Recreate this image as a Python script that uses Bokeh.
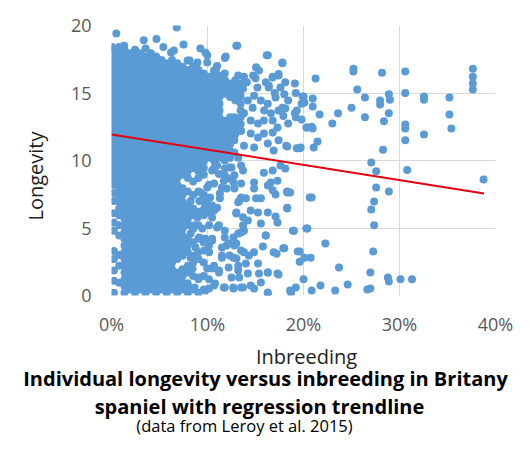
import math
from bokeh.plotting import figure
from bokeh.layouts import column
from bokeh.models import Label, FixedTicker, PrintfTickFormatter, Range1d, Title
from bokeh.embed import file_html
from bokeh.resources import INLINE

# ---------------- data (inbreeding in %, longevity in years) ----------------
x_ticks = [0, 10, 20, 30, 40]
y_ticks = [0, 5, 10, 15, 20]

# dense core of the cloud, read column by column
core_col_x = [0.25, 0.8, 1.35, 1.9, 2.45, 3.0, 3.55, 4.1, 4.65, 5.2, 5.75, 6.3, 6.85,
              7.4, 7.95, 8.5, 9.05, 9.6, 10.15, 10.7, 11.25, 11.8, 12.35, 12.9, 13.45]
core_col_y = [
    [0.2, 1.1, 1.85, 2.7, 3.3, 4.8, 5.4, 6.1, 7.0, 7.6, 8.2, 8.7, 9.2, 9.7, 10.2, 10.7, 11.2, 11.7, 12.2, 12.7, 13.2, 13.7, 14.2, 14.7, 15.2, 15.7, 16.2, 16.7, 17.2, 17.7, 18.2],
    [0.95, 2.2, 3.0, 4.45, 5.2, 5.95, 6.45, 6.95, 7.45, 7.95, 8.45, 8.95, 9.45, 9.95, 10.45, 10.95, 11.45, 11.95, 12.45, 12.95, 13.45, 13.95, 14.45, 14.95, 15.45, 15.95, 16.45, 16.95, 17.45, 17.95, 18.4],
    [0.2, 0.7, 1.2, 1.7, 2.2, 2.7, 3.2, 3.7, 4.2, 4.7, 5.2, 5.7, 6.2, 6.7, 7.2, 7.7, 8.2, 8.7, 9.2, 9.7, 10.2, 10.7, 11.2, 11.7, 12.2, 12.7, 13.2, 13.7, 14.2, 14.7, 15.2, 15.7, 16.2, 16.7, 17.2, 17.7, 18.2],
    [0.45, 0.95, 1.45, 1.95, 2.45, 2.95, 3.45, 3.95, 4.45, 4.95, 5.45, 5.95, 6.45, 6.95, 7.45, 7.95, 8.45, 8.95, 9.45, 9.95, 10.45, 10.95, 11.45, 11.95, 12.45, 12.95, 13.45, 13.95, 14.45, 14.95, 15.45, 15.95, 16.45, 16.95, 17.45, 17.95],
    [0.2, 0.7, 1.2, 1.7, 2.2, 2.7, 3.2, 3.7, 4.2, 4.7, 5.2, 5.7, 6.2, 6.7, 7.2, 7.7, 8.2, 8.7, 9.2, 9.7, 10.2, 10.7, 11.2, 11.7, 12.2, 12.7, 13.2, 13.7, 14.2, 14.7, 15.2, 15.7, 16.2, 16.7, 17.2, 17.7, 18.2],
    [0.45, 0.95, 1.45, 1.95, 2.45, 2.95, 3.45, 3.95, 4.45, 4.95, 5.45, 5.95, 6.45, 6.95, 7.45, 7.95, 8.45, 8.95, 9.45, 9.95, 10.45, 10.95, 11.45, 11.95, 12.45, 12.95, 13.45, 13.95, 14.45, 14.95, 15.45, 15.95, 16.45, 16.95, 17.45, 17.95],
    [0.2, 0.7, 1.2, 1.7, 2.2, 2.7, 3.2, 3.7, 4.2, 4.7, 5.2, 5.7, 6.2, 6.7, 7.2, 7.7, 8.2, 8.7, 9.2, 9.7, 10.2, 10.7, 11.2, 11.7, 12.2, 12.7, 13.2, 13.7, 14.2, 14.7, 15.2, 15.7, 16.2, 16.7, 17.2, 17.7],
    [0.45, 0.95, 1.45, 1.95, 2.45, 2.95, 3.45, 3.95, 4.45, 4.95, 5.45, 5.95, 6.45, 6.95, 7.45, 7.95, 8.45, 8.95, 9.45, 9.95, 10.45, 10.95, 11.45, 11.95, 12.45, 12.95, 13.45, 13.95, 14.45, 14.95, 15.45, 15.95, 16.45, 16.95, 17.45, 17.95],
    [0.2, 0.7, 1.2, 1.7, 2.2, 2.7, 3.2, 3.7, 4.2, 4.7, 5.2, 5.7, 6.2, 6.7, 7.2, 7.7, 8.2, 8.7, 9.2, 9.7, 10.2, 10.7, 11.2, 11.7, 12.2, 12.7, 13.2, 13.7, 14.2, 14.7, 15.2, 15.7, 16.2, 16.7, 17.2, 17.7],
    [0.45, 0.95, 1.45, 1.95, 2.45, 2.95, 3.45, 3.95, 4.45, 4.95, 5.45, 5.95, 6.45, 6.95, 7.45, 7.95, 8.45, 8.95, 9.45, 9.95, 10.45, 10.95, 11.45, 11.95, 12.45, 12.95, 13.45, 13.95, 14.45, 14.95, 15.45, 15.95, 16.45, 16.95, 17.45],
    [0.2, 0.7, 1.2, 1.7, 2.2, 2.7, 3.2, 3.7, 4.2, 4.7, 5.2, 5.7, 6.2, 6.7, 7.2, 7.7, 8.2, 8.7, 9.2, 9.7, 10.2, 10.7, 11.2, 11.7, 12.2, 12.7, 13.2, 13.7, 14.2, 14.7, 15.2, 15.7, 16.2, 16.7, 17.2],
    [0.45, 0.95, 1.45, 1.95, 2.45, 2.95, 3.45, 3.95, 4.45, 4.95, 5.45, 5.95, 6.45, 6.95, 7.45, 7.95, 8.45, 8.95, 9.45, 9.95, 10.45, 10.95, 11.45, 11.95, 12.45, 12.95, 13.45, 13.95, 14.45, 14.95, 15.45, 15.95, 16.45, 16.95, 17.45],
    [0.2, 0.7, 1.2, 1.7, 2.7, 3.2, 3.7, 4.2, 4.7, 5.2, 5.7, 6.2, 6.7, 7.2, 7.7, 8.2, 8.7, 9.2, 9.7, 10.2, 10.7, 11.2, 11.7, 12.2, 12.7, 13.2, 13.7, 14.2, 14.7, 15.2, 15.7, 16.2, 16.7, 17.2],
    [0.45, 0.95, 1.45, 1.95, 2.95, 3.45, 3.95, 4.45, 4.95, 5.45, 5.95, 6.45, 6.95, 7.45, 7.95, 8.95, 9.45, 9.95, 10.45, 10.95, 11.45, 11.95, 12.45, 12.95, 13.45, 13.95, 14.45, 14.95, 15.45, 15.95, 16.45, 16.95],
    [0.2, 0.7, 1.7, 2.2, 3.2, 3.7, 4.2, 5.2, 5.7, 6.2, 6.7, 7.7, 8.7, 9.2, 9.7, 10.2, 10.7, 11.2, 11.7, 12.2, 12.7, 13.2, 13.7, 14.2, 14.7, 15.2, 15.7, 16.2, 16.7],
    [0.45, 1.45, 2.45, 2.95, 3.95, 4.95, 5.95, 6.45, 7.45, 8.45, 9.45, 9.95, 10.45, 10.95, 11.45, 11.95, 12.45, 12.95, 13.45, 13.95, 14.45, 14.95, 15.45, 15.95, 16.45, 16.95],
    [0.2, 1.2, 2.7, 3.2, 4.2, 5.2, 6.2, 7.7, 8.7, 9.2, 9.7, 10.2, 10.7, 11.2, 11.7, 12.2, 12.7, 13.2, 13.7, 14.2, 14.7, 15.2, 15.7, 16.2, 16.7],
    [0.45, 1.45, 2.45, 3.95, 5.95, 6.95, 7.45, 8.95, 9.45, 9.95, 10.45, 10.95, 11.45, 11.95, 12.45, 12.95, 13.45, 13.95, 14.45, 14.95, 15.45, 15.95, 16.45],
    [1.2, 3.7, 6.7, 8.2, 10.2, 10.7, 11.2, 11.7, 12.2, 12.7, 13.2, 13.7, 14.2, 14.7, 15.2, 15.7, 16.2],
    [9.45, 9.95, 10.45, 10.95, 11.45, 11.95, 12.45, 12.95, 13.45, 13.95, 14.45, 14.95, 15.45, 15.95, 16.45],
    [10.2, 10.7, 11.2, 11.7, 12.2, 12.7, 13.2, 13.7, 14.2, 14.7, 15.2, 15.7, 16.2],
    [10.45, 10.95, 11.45, 11.95, 12.45, 12.95, 14.95, 15.45, 15.95, 16.45],
    [10.2, 10.7, 11.2, 11.7, 12.2, 12.7, 13.2, 14.7, 15.2, 15.7],
    [11.95, 12.45, 12.95, 14.45, 14.95, 15.45, 15.95],
    [12.2, 12.7, 13.2, 13.7, 14.2, 14.7, 15.2, 15.7],
]

# upper part of the fringe (10-20 %)
upper_x = [13.1, 16.17, 17.8, 11.9, 9.77, 9.97, 15.06, 16.79, 17.4, 19.1,
           19.9, 20.1, 20.3, 19.6, 18.2, 17.4, 18.4, 19.2, 19.3, 18.4,
           13.8, 13.2, 14.75, 16.07, 16.38, 17.6, 17.09, 16.28, 15.56, 14.85,
           14.2, 13.8, 14.5, 15.26, 15.87, 16.79, 17.29, 16.79, 15.87, 15.26,
           14.5, 13.5, 12.8, 12.2, 12.8, 13.7, 11.8, 11.19, 10.68, 12.8,
           13.8, 14.85, 16.28, 16.89, 12.8, 11.8, 14.1, 15.2, 14.7, 15.9,
           16.6, 17.9, 15.0, 13.4, 17.0, 18.0]
upper_y = [18.5, 17.8, 17.2, 17.7, 18.0, 17.26, 16.9, 16.2, 16.4, 15.7,
           14.74, 14.3, 12.44, 10.9, 11.1, 11.5, 12.74, 13.2, 13.7, 14.44,
           16.2, 16.3, 16.3, 15.8, 15.56, 15.4, 14.67, 14.2, 14.44, 14.8,
           14.44, 13.5, 12.96, 12.74, 12.96, 12.96, 12.44, 12.07, 12.0, 11.7,
           12.0, 12.2, 13.2, 14.96, 15.4, 15.33, 15.9, 16.3, 16.67, 11.5,
           11.1, 10.96, 11.26, 10.74, 10.6, 11.26, 15.8, 15.4, 13.9, 13.7,
           13.5, 13.3, 16.1, 14.9, 15.0, 14.9]

# lower part of the fringe (10-20 %)
lower_x = [20.65, 18.3, 18.3, 17.09, 18.9, 20.3, 19.6, 17.9, 16.89, 16.07,
           15.77, 15.56, 15.26, 15.06, 15.56, 14.85, 14.85, 15.87, 16.79, 17.6,
           18.1, 16.28, 16.58, 16.79, 14.5, 14.2, 13.8, 13.2, 13.7, 13.0,
           13.2, 13.5, 14.0, 12.8, 12.2, 12.8, 13.5, 12.5, 11.8, 12.0,
           11.29, 10.78, 10.48, 11.19, 11.8, 12.0, 12.8, 11.5, 12.3, 13.0,
           13.8, 14.3, 14.85, 15.26, 14.0, 13.2, 12.5, 14.2, 15.36, 16.28,
           17.29, 15.56, 14.5, 13.5, 12.7, 11.8, 10.78, 10.17, 9.77, 10.48,
           11.19, 10.17, 9.77, 10.48, 10.17, 10.48, 16.28, 18.6, 14.85, 17.29]
lower_y = [7.26, 7.7, 6.44, 5.85, 4.8, 4.96, 3.26, 3.5, 3.2, 4.44,
           3.63, 5.33, 6.15, 7.2, 7.2, 7.93, 8.37, 9.1, 9.26, 9.63,
           9.4, 8.15, 8.37, 7.8, 6.3, 5.56, 4.8, 4.6, 5.2, 6.07,
           6.9, 7.26, 7.2, 7.93, 8.67, 8.9, 9.63, 9.48, 9.4, 7.93,
           7.2, 6.44, 5.78, 5.2, 4.3, 3.7, 3.7, 2.96, 2.96, 2.74,
           3.2, 2.96, 3.2, 2.37, 2.37, 1.85, 1.33, 1.63, 1.63, 1.7,
           1.63, 0.96, 0.74, 0.6, 0.52, 0.6, 0.89, 0.52, 0.37, 2.0,
           1.85, 3.2, 4.2, 4.2, 5.2, 6.67, 0.22, 0.37, 0.52, 5.4]

# transition zone (8-14 %, below 10 years)
trans_x = [13.2, 12.3, 11.8, 12.7, 13.3, 13.0, 11.29, 10.68, 10.17, 9.66,
           8.95, 9.46, 11.0, 11.8, 12.7, 12.2, 11.5, 10.48, 9.15, 8.75,
           9.66, 11.5, 12.7, 13.5, 10.68, 9.97, 11.19, 12.2, 13.2, 12.7,
           13.7, 11.7, 10.68, 8.65, 7.93, 9.15, 8.44, 8.24, 8.75, 7.93,
           8.24, 7.93, 8.65, 8.44, 8.24, 9.15, 9.77, 10.27, 11.0, 9.26,
           9.97, 10.68, 11.5, 11.7, 11.19, 10.48, 11.0, 11.8, 12.2, 13.7,
           13.5, 13.7, 13.5, 13.0, 13.3]
trans_y = [10.2, 9.48, 8.9, 8.37, 7.0, 6.15, 7.55, 6.3, 6.15, 6.44,
           5.78, 4.96, 5.04, 4.8, 4.3, 3.85, 3.55, 4.07, 4.3, 3.55,
           3.33, 2.8, 2.8, 3.33, 2.2, 2.0, 1.7, 2.07, 2.2, 0.6,
           0.6, 0.6, 0.74, 0.6, 0.9, 1.33, 2.0, 2.8, 2.8, 3.9,
           4.6, 5.4, 5.2, 6.3, 7.0, 7.0, 6.9, 7.26, 6.5, 7.63,
           8.0, 8.3, 8.0, 8.5, 9.0, 9.26, 9.63, 10.0, 10.6, 9.26,
           8.3, 5.8, 4.67, 3.85, 1.33]

# outer fringe (16-25 %)
outer_x = [16.28, 17.8, 17.4, 16.79, 18.1, 19.2, 16.38, 18.1, 17.8, 17.4,
           19.1, 19.8, 20.0, 20.0, 20.96, 20.96, 21.26, 21.67, 23.0, 23.6,
           20.4, 20.85, 20.96, 19.8, 21.46, 21.06, 19.7, 19.3, 18.3, 20.85,
           18.3, 18.3, 18.6, 17.09, 16.07, 16.28, 17.29, 22.28, 21.77, 20.85,
           20.0, 19.2, 18.7, 19.4, 19.6, 20.1, 20.75, 20.4, 19.0, 18.0,
           17.2, 17.4, 16.28, 16.28, 23.3, 23.7, 24.6]
outer_y = [17.8, 17.26, 16.3, 16.15, 15.8, 15.0, 15.4, 13.85, 13.9, 13.7,
           13.5, 14.2, 14.74, 14.3, 14.6, 14.0, 16.07, 13.4, 12.74, 13.5,
           12.44, 12.5, 12.37, 13.04, 11.4, 10.96, 10.96, 10.9, 11.04, 7.26,
           6.5, 7.63, 7.63, 7.48, 4.44, 6.15, 8.5, 3.85, 0.74, 0.37,
           1.2, 0.6, 0.22, 3.26, 2.5, 2.8, 2.8, 4.96, 4.8, 3.5,
           3.1, 1.56, 1.7, 0.15, 0.37, 2.07, 0.81]

# isolated highly inbred dogs (> 25 %)
far_x = [25.2, 25.2, 28.18, 30.6, 37.64, 37.64, 37.64, 37.64, 25.6, 26.4,
         25.0, 27.98, 27.98, 28.89, 29.0, 28.89, 30.6, 32.55, 32.55, 35.2,
         35.2, 35.4, 30.6, 30.6, 30.6, 32.55, 26.4, 28.38, 28.28, 27.06,
         27.57, 30.8, 38.76, 28.89, 27.57, 27.36, 27.06, 27.36, 27.26, 26.96,
         26.96, 26.65, 28.79, 28.89, 30.1, 31.3]
far_y = [16.8, 16.6, 16.5, 16.6, 16.8, 16.2, 15.7, 15.26, 15.26, 14.67,
         13.9, 14.44, 14.15, 14.9, 14.5, 13.5, 15.0, 14.74, 14.5, 14.67,
         13.4, 12.37, 12.67, 12.37, 11.5, 11.93, 13.2, 12.9, 10.8, 9.85,
         9.2, 9.3, 8.6, 7.7, 8.0, 6.96, 6.37, 5.2, 3.26, 1.7,
         0.52, 0.44, 1.33, 1.04, 1.2, 1.2]

# longest-lived dogs along the top edge of the cloud
top_x = [0.5, 6.8, 1.32, 3.36, 4.68, 5.4, 6.5, 7.5, 9.25, 9.97,
         11.8, 13.0, 2.34, 3.56, 8.14, 10.9, 15.36, 6.2, 7.93, 8.95,
         11.0, 0.05]
top_y = [19.4, 19.85, 18.5, 18.9, 19.0, 18.4, 18.15, 18.6, 18.3, 17.8,
         17.6, 18.5, 18.0, 18.3, 17.4, 16.8, 16.67, 18.0, 17.4, 17.26,
         17.0, 18.4]

# linear regression trendline (end points)
trend_x = [0.0, 38.8]
trend_y = [11.93, 7.56]

# ---------------- build ----------------
xs, ys = [], []
for cx, col in zip(core_col_x, core_col_y):
    xs.extend([cx] * len(col))
    ys.extend(col)
for gx, gy in [(upper_x, upper_y), (lower_x, lower_y), (trans_x, trans_y),
               (outer_x, outer_y), (far_x, far_y), (top_x, top_y)]:
    n = min(len(gx), len(gy))
    xs.extend(gx[:n])
    ys.extend(gy[:n])

W = 529
p = figure(width=W, height=340, title=None, output_backend="svg", toolbar_location=None,
           x_range=Range1d(0, 40), y_range=Range1d(0, 20),
           min_border_left=102, min_border_right=34, min_border_top=25, min_border_bottom=45)
p.frame_align = False
p.background_fill_color = "white"
p.border_fill_color = "white"
p.outline_line_color = None

for g in (p.xgrid, p.ygrid):
    g.grid_line_color = "#D9D9D9"
    g.grid_line_width = 1

p.xaxis.ticker = FixedTicker(ticks=x_ticks)
p.xaxis.formatter = PrintfTickFormatter(format="%d%%")
p.yaxis.ticker = FixedTicker(ticks=y_ticks)
for ax in (p.xaxis, p.yaxis):
    ax.axis_line_color = None
    ax.major_tick_line_color = None
    ax.minor_tick_line_color = None
    ax.major_tick_out = 0
    ax.major_tick_in = 0
    ax.major_label_text_font = "Open Sans"
    ax.major_label_text_font_size = "18px"
    ax.major_label_text_color = "#595959"
p.xaxis.major_label_standoff = 16
p.yaxis.major_label_standoff = 20

p.add_layout(Title(text="Longevity", align="left", offset=75, standoff=38,
                   vertical_align="bottom", text_font="Open Sans", text_font_size="20px",
                   text_font_style="normal", text_color="#1E1E1E"), "left")

p.scatter(xs, ys, size=8, fill_color="#5B9BD5", line_color=None)
p.line(trend_x, trend_y, line_color="#E3000F", line_width=2)

# caption area under the chart
H2 = 114
p2 = figure(width=W, height=H2, title=None, output_backend="svg", toolbar_location=None,
            x_range=Range1d(0, W), y_range=Range1d(H2, 0),
            x_axis_type=None, y_axis_type=None, min_border=0)
p2.frame_align = False
p2.outline_line_color = None
p2.background_fill_color = "white"
p2.border_fill_color = "white"

common = dict(text_font="Open Sans", text_baseline="alphabetic", text_align="center")
p2.add_layout(Label(x=306, y=16, text="Inbreeding", text_font_size="20px",
                    text_color="#1E1E1E", **common))
p2.add_layout(Label(x=265, y=38, text="Individual longevity versus inbreeding in Britany",
                    text_font_size="20px", text_font_style="bold", text_color="#000000", **common))
p2.add_layout(Label(x=259, y=66, text="spaniel with regression trendline",
                    text_font_size="20px", text_font_style="bold", text_color="#000000", **common))
p2.add_layout(Label(x=244, y=85, text="(data from Leroy et al. 2015)",
                    text_font_size="16.5px", text_color="#000000", **common))

open("out.html", "w").write(file_html(column(p, p2, spacing=0), INLINE))
